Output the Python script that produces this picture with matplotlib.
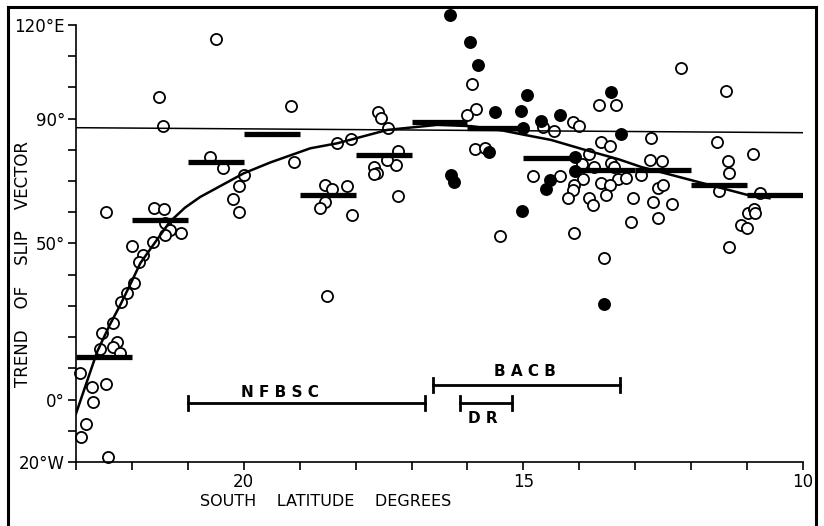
import matplotlib.pyplot as plt
from matplotlib.lines import Line2D

# open circles: (south latitude, trend of slip vector in degrees east)
open_lat = [20.49, 21.51, 21.44, 20.60, 20.38, 19.99, 20.08, 20.20, 20.08, 22.46,
            21.60, 21.42, 21.41, 21.32, 21.41, 21.12, 21.63, 22.00, 21.80, 21.87,
            21.97, 22.09, 22.20, 22.33, 22.54, 22.27, 22.33, 22.57, 22.21, 22.93,
            22.72, 22.46, 22.69, 22.82, 22.91, 22.42,
            19.16, 19.11, 18.34, 18.09, 17.60, 17.55, 17.42, 17.25, 17.27, 17.43,
            17.67, 17.62, 17.68, 17.25, 18.54, 18.42, 18.15, 18.55, 18.63, 18.06,
            18.51, 15.92, 15.85, 16.01, 15.87, 15.68, 15.41, 14.83, 14.65,
            12.18, 11.37, 13.64, 13.34, 14.12, 14.00, 14.45, 12.71, 11.53, 13.62,
            13.46, 10.89, 13.82, 11.35, 11.32, 12.74, 12.53, 13.96, 13.73, 13.43,
            13.38, 12.89, 14.34, 13.94, 13.31, 13.16, 14.09, 14.12, 13.61, 13.46,
            13.52, 14.20, 13.82, 13.76, 13.04, 12.68, 12.34, 12.59, 12.50, 11.50,
            10.77, 13.08, 12.59, 14.10, 13.56, 11.32, 10.99, 10.87, 10.86, 11.10,
            11.01]
open_val = [115.5, 97.0, 87.7, 77.6, 74.1, 71.9, 68.4, 64.2, 60.1, 60.0,
            61.3, 60.9, 56.7, 54.3, 52.7, 53.3, 50.4, 49.2, 46.3, 44.2,
            37.2, 34.0, 31.2, 24.4, 21.4, 18.5, 16.9, 16.1, 14.8, 8.4,
            4.1, 5.0, -0.7, -7.8, -12.1, -18.5,
            94.1, 76.2, 82.1, 83.4, 92.2, 90.1, 86.9, 79.7, 75.1, 76.7,
            74.6, 72.7, 72.3, 65.3, 68.7, 67.4, 68.5, 63.2, 61.3, 59.1,
            33.3, 101.0, 93.0, 91.2, 80.2, 80.7, 52.4, 71.7, 87.2,
            106.1, 98.9, 94.4, 94.4, 89.0, 87.6, 86.1, 83.7, 82.6, 82.6,
            81.3, 78.7, 78.6, 76.5, 72.5, 76.7, 76.5, 75.5, 74.6, 75.7,
            74.4, 71.9, 71.7, 70.7, 70.7, 70.9, 68.7, 67.1, 69.3, 68.7,
            65.5, 64.5, 64.5, 62.3, 64.5, 63.4, 62.6, 67.7, 68.7, 66.9,
            66.1, 57.0, 58.1, 53.4, 45.4, 49.0, 59.7, 61.0, 59.7, 55.9,
            55.1]

# filled circles
fill_lat = [16.32, 15.95, 15.82, 15.51, 15.04, 14.94, 14.68, 15.00, 15.62, 16.30,
            16.24, 15.03, 14.52, 14.60, 13.44, 14.34, 13.25, 14.07, 14.07, 13.55]
fill_val = [123.2, 114.7, 107.2, 92.2, 92.4, 97.6, 89.3, 87.1, 79.4, 71.9,
            69.8, 60.5, 70.3, 67.4, 98.6, 91.1, 85.0, 77.6, 73.3, 30.5]

# smooth trend curve
curve_lat = [23.00, 22.80, 22.62, 22.40, 22.20, 22.00, 21.85, 21.60, 21.32, 21.05,
             20.78, 20.42, 20.00, 19.52, 18.81, 18.33, 17.43, 16.54, 15.94, 15.40,
             14.98, 14.51, 13.90, 13.30, 12.89, 12.00, 10.98, 10.60]
curve_val = [-4.5, 6.0, 15.4, 23.8, 30.6, 38.0, 43.7, 50.0, 57.0, 61.5,
             64.9, 68.4, 72.5, 76.0, 80.5, 82.1, 86.4, 88.0, 87.6, 86.3,
             84.8, 83.2, 80.0, 77.0, 74.5, 70.3, 65.5, 64.5]

# one-degree bin means
bin_start = [23, 22, 21, 20, 19, 18, 17, 16, 15, 14, 13, 12, 11]
bin_end = [22, 21, 20, 19, 18, 17, 16, 15, 14, 13, 12, 11, 10]
bin_mean = [13.6, 57.4, 76.2, 85.1, 65.5, 78.3, 88.9, 87.0, 77.3, 73.4, 73.6, 68.7, 65.5]

# reference line
ref_lat = [23, 10]
ref_val = [87.1, 85.5]

# ranges
range_names = ['NFBSC', 'BACB', 'DR']
range_from = [20.99, 16.62, 16.14]
range_to = [16.76, 13.27, 15.20]
range_y = [-1.1, 4.65, -1.1]
label_lat = [19.36, 14.97, 15.72]
label_val = [2.4, 9.1, -6.0]

yticks_major = [120, 90, 50, 0, -20]
ytick_labels = ['120°E', '90°', '50°', '0°', '20°W']

fnt = ['Liberation Sans Narrow', 'DejaVu Sans']
plt.rcParams['font.family'] = fnt

fig = plt.figure(figsize=(8.24, 5.26), dpi=100)
ax = fig.add_axes([76/824, 1-462/526, (803-76)/824, (462-25)/526])

ax.plot(open_lat, open_val, 'o', ms=8, mfc='white', mec='black', mew=1.3,
        zorder=2, clip_on=False)
ax.plot(fill_lat, fill_val, 'o', ms=8, mfc='black', mec='black', mew=1.3,
        zorder=2, clip_on=False)

ax.plot(ref_lat, ref_val, color='black', lw=1.1, zorder=3)
ax.plot(curve_lat, curve_val, color='black', lw=1.8, zorder=3)
for a, b, m in zip(bin_start, bin_end, bin_mean):
    ax.plot([a, b], [m, m], color='black', lw=3.8, solid_capstyle='butt', zorder=4)

for name, a, b, y, lx, ly in zip(range_names, range_from, range_to, range_y,
                                 label_lat, label_val):
    ax.plot([a, b], [y, y], color='black', lw=2.0, zorder=3)
    ax.plot([a, a], [y - 2.2, y + 2.2], color='black', lw=2.0, zorder=3)
    ax.plot([b, b], [y - 2.2, y + 2.2], color='black', lw=2.0, zorder=3)
    ax.text(lx, ly, ' '.join(name), ha='center', va='center', fontsize=11,
            fontweight='bold', family=['DejaVu Sans'])

ax.set_xlim(23, 10)
ax.set_ylim(-20, 120)
ax.spines['top'].set_visible(False)
ax.spines['right'].set_visible(False)
for s in ('left', 'bottom'):
    ax.spines[s].set_linewidth(1.2)

ax.set_xticks(range(10, 24))
ax.set_xticklabels(['10', '', '', '', '', '15', '', '', '', '', '20', '', '', ''])
ax.set_yticks(range(-20, 121, 10))
ax.set_yticklabels([ytick_labels[yticks_major.index(v)] if v in yticks_major else ''
                    for v in range(-20, 121, 10)])
ax.tick_params(direction='out', length=6, width=1.2, labelsize=12, pad=2)

fig.text(326/824, 1-502/526, 'SOUTH    LATITUDE    DEGREES', ha='center',
         va='center', fontsize=11.5)
fig.text(23/824, 1-264/526, 'TREND    OF    SLIP    VECTOR', rotation=90,
         ha='center', va='center', fontsize=12)

fig.add_artist(Line2D([8/824, 8/824], [0, 1-7/526], color='black', lw=2.2))
fig.add_artist(Line2D([8/824, 816/824], [1-7/526, 1-7/526], color='black', lw=2.2))
fig.add_artist(Line2D([816/824, 816/824], [1-7/526, 0], color='black', lw=2.2))

fig.savefig('out.png', dpi=100)
